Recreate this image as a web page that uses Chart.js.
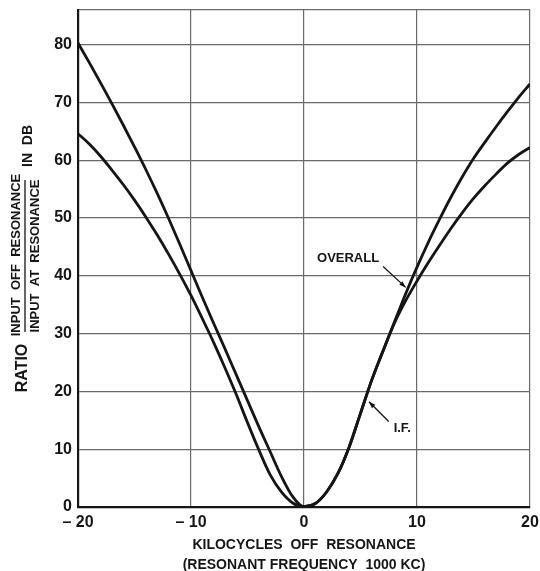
<!DOCTYPE html>
<html>
<head>
<meta charset="utf-8">
<script src="https://cdn.jsdelivr.net/npm/chart.js@4"></script>
<style>
  html, body { margin: 0; padding: 0; background: #fff; }
  #wrap { width: 540px; height: 571px; position: relative; }
</style>
</head>
<body>
<div id="wrap"><canvas id="myChart"></canvas></div>
<script>
// kilocycles off resonance (resonant frequency 1000 kc)
const kcOff = [-20, -19, -18, -17, -16, -15, -14, -13, -12, -11, -10, -9, -8, -7, -6, -5, -4, -3, -2, -1, 0,
               1, 2, 3, 4, 5, 6, 7, 8, 9, 10, 11, 12, 13, 14, 15, 16, 17, 18, 19, 20];
// ratio in db
const overallDb = [80.3, 76.9, 73.4, 69.8, 66.1, 62.3, 58.4, 54.3, 50.0, 45.5, 40.9, 36.3, 31.8, 27.4, 22.9, 18.4, 13.9, 9.6, 5.3, 1.8, 0.05,
                   0.6, 2.6, 5.8, 10.4, 16.2, 22.0, 27.1, 32.0, 36.9, 41.5, 45.8, 49.8, 53.6, 57.1, 60.3, 63.1, 65.8, 68.4, 70.9, 73.2];
const ifDb = [64.6, 62.8, 60.7, 58.3, 55.8, 53.1, 50.2, 47.1, 43.8, 40.3, 36.6, 32.6, 28.5, 24.1, 19.5, 14.6, 9.9, 5.6, 2.6, 0.7, 0.05,
              0.6, 2.6, 5.8, 10.4, 16.2, 22.0, 27.0, 31.8, 35.7, 39.1, 42.3, 45.3, 48.2, 50.9, 53.4, 55.6, 57.6, 59.5, 61.0, 62.2];
const xTicks = [-20, -10, 0, 10, 20];
const yTicks = [0, 10, 20, 30, 40, 50, 60, 70, 80];

// curve labels: [text, label x, label y, arrow from x, from y, arrow tip x, tip y]
const curveNotes = [
  ['OVERALL', 3.9, 43.0, 7.0, 41.6, 9.0, 38.0],
  ['I.F.', 8.7, 13.6, 7.5, 14.8, 5.75, 18.2]
];

const INK = '#151515';
const FONT = '"Liberation Sans", Arial, sans-serif';

function toPoints(xs, ys) {
  return xs.map((x, i) => ({ x: x, y: ys[i] }));
}

const notesPlugin = {
  id: 'notes',
  afterDraw(chart) {
    const ctx = chart.ctx;
    const xs = chart.scales.x, ys = chart.scales.y;
    ctx.save();
    ctx.fillStyle = INK;
    ctx.strokeStyle = INK;

    // curve labels with arrows
    curveNotes.forEach(n => {
      ctx.font = 'bold 13px ' + FONT;
      ctx.textAlign = 'center';
      ctx.textBaseline = 'middle';
      ctx.fillText(n[0], xs.getPixelForValue(n[1]), ys.getPixelForValue(n[2]));
      const x0 = xs.getPixelForValue(n[3]), y0 = ys.getPixelForValue(n[4]);
      const x1 = xs.getPixelForValue(n[5]), y1 = ys.getPixelForValue(n[6]);
      ctx.lineWidth = 1.3;
      ctx.beginPath(); ctx.moveTo(x0, y0); ctx.lineTo(x1, y1); ctx.stroke();
      const a = Math.atan2(y1 - y0, x1 - x0);
      ctx.beginPath();
      ctx.moveTo(x1, y1);
      ctx.lineTo(x1 - 7 * Math.cos(a - 0.35), y1 - 7 * Math.sin(a - 0.35));
      ctx.lineTo(x1 - 7 * Math.cos(a + 0.35), y1 - 7 * Math.sin(a + 0.35));
      ctx.closePath(); ctx.fill();
    });

    // y axis title: RATIO  INPUT OFF RESONANCE / INPUT AT RESONANCE  IN DB
    ctx.rotate(-Math.PI / 2);
    ctx.textAlign = 'center';
    ctx.textBaseline = 'middle';
    ctx.font = 'bold 16px ' + FONT;
    ctx.fillText('RATIO', -368, 23);
    ctx.font = 'bold 13px ' + FONT;
    ctx.fillText('INPUT  OFF  RESONANCE', -255, 16);
    ctx.fillText('INPUT  AT  RESONANCE', -256, 35);
    ctx.lineWidth = 1.3;
    ctx.beginPath(); ctx.moveTo(-332, 25); ctx.lineTo(-180, 25); ctx.stroke();
    ctx.font = 'bold 14px ' + FONT;
    ctx.fillText('IN  DB', -146, 28);
    ctx.restore();
  }
};

const ctx = document.getElementById('myChart').getContext('2d');
new Chart(ctx, {
  type: 'line',
  data: {
    datasets: [
      { label: 'OVERALL', data: toPoints(kcOff, overallDb) },
      { label: 'I.F.', data: toPoints(kcOff, ifDb) }
    ]
  },
  options: {
    responsive: true,
    maintainAspectRatio: false,
    animation: false,
    layout: { padding: { left: 0, right: 10, top: 10, bottom: 0 } },
    elements: {
      point: { radius: 0 },
      line: { borderColor: INK, borderWidth: 2.8, cubicInterpolationMode: 'monotone', fill: false }
    },
    plugins: { legend: { display: false }, tooltip: { enabled: false } },
    scales: {
      x: {
        type: 'linear',
        min: -20,
        max: 20,
        afterFit(scale) { scale.height = 64; scale.paddingLeft = 0; scale.paddingRight = 0; },
        afterBuildTicks(scale) { scale.ticks = xTicks.map(v => ({ value: v })); },
        grid: { color: '#6a6a6a', lineWidth: 1.2, drawTicks: false },
        border: { color: INK, width: 2.2 },
        ticks: {
          padding: 6,
          color: INK,
          font: { family: FONT, size: 16, weight: 'bold' },
          callback: v => v < 0 ? '\u2013 ' + Math.abs(v) : String(v)
        },
        title: {
          display: true,
          text: ['KILOCYCLES  OFF  RESONANCE', '(RESONANT FREQUENCY  1000 KC)'],
          color: INK,
          font: { family: FONT, size: 14, weight: 'bold', lineHeight: 1.4 },
          padding: { top: 0, bottom: -4 }
        }
      },
      y: {
        min: 0,
        max: 86,
        afterFit(scale) { scale.width = 78; scale.paddingTop = 0; scale.paddingBottom = 0; },
        afterBuildTicks(scale) { scale.ticks = yTicks.concat([86]).map(v => ({ value: v })); },
        grid: { color: '#6a6a6a', lineWidth: 1.2, drawTicks: false },
        border: { color: INK, width: 2.2 },
        ticks: {
          padding: 6,
          color: INK,
          font: { family: FONT, size: 16, weight: 'bold' },
          callback: v => yTicks.includes(v) ? String(v) : ''
        }
      }
    }
  },
  plugins: [notesPlugin]
});
</script>
</body>
</html>
